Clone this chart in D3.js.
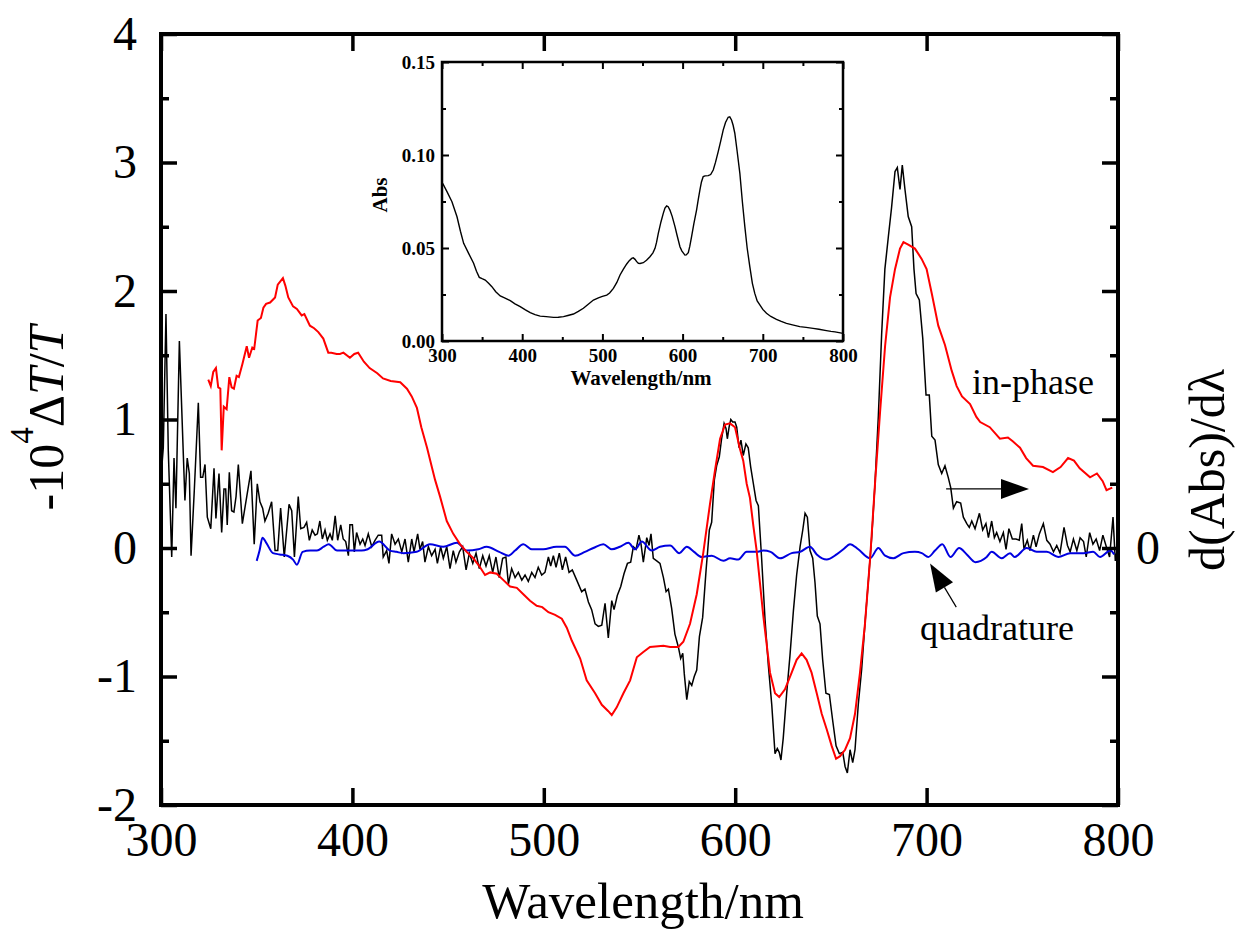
<!doctype html>
<html>
<head>
<meta charset="utf-8">
<script src="https://cdn.jsdelivr.net/npm/d3@7"></script>
<style>
  body { margin: 0; background: #fff; }
  svg text { font-family: "Liberation Serif", "DejaVu Serif", serif; }
</style>
</head>
<body>
<svg width="1245" height="938"></svg>
<script>
// derivative of absorbance, d(Abs)/dλ (black), [nm, value on left scale]
var derivAbs = [[300,0.55],[301.2,0.78],[302.6,1.82],[303.8,0.76],[305.6,-0.07],[306.8,0.70],[307.8,0.31],[309.6,1.61],[312.5,0.37],[313.7,0.70],[314.8,0.58],[315.7,-0.06],[317.4,0.45],[319.5,1.13],[320.7,0.55],[321.8,0.55],[323,0.65],[324.2,0.24],[326,0.15],[327.7,0.62],[328.7,0.23],[330.3,0.58],[331.7,0.12],[332.9,0.46],[333.8,0.46],[334.6,0.18],[335.7,0.59],[336.9,0.29],[338.1,0.28],[339.2,0.40],[340.4,0.65],[342.5,0.19],[344.8,0.40],[347,0.60],[348.7,0.03],[350.3,0.50],[351.7,0.36],[353.1,0.31],[354.3,0.21],[356,0.27],[357.8,0.36],[359.6,-0.02],[361,-0.02],[362.5,0.31],[364.4,-0.07],[366.9,0.34],[368.3,0.29],[369.7,-0.07],[371.7,0.40],[373,0.15],[374.7,0.16],[376.1,0.20],[377.5,0.06],[379,0.14],[380.5,0.10],[381.7,0.11],[383,0.21],[384.3,0.07],[385.7,0.14],[386.9,0.06],[388.3,0.11],[389.5,0.06],[391,0.25],[392.3,0.06],[393.9,0.18],[395.2,0.07],[396.5,0.05],[397.9,-0.06],[398.7,0.18],[400,0.18],[401,-0.03],[402.2,0.12],[404,0.03],[405.4,0.07],[406.6,0.02],[408.3,0.11],[410.1,0.01],[411.8,0.06],[413.5,0.10],[415.3,0.10],[416.1,-0.07],[417.9,-0.02],[419.1,-0.12],[420.5,0.11],[422.3,0.03],[424,0.07],[425.8,-0.03],[427.5,0.07],[429.2,-0.11],[431,0.07],[432.2,-0.03],[434.1,0.11],[435.3,-0.01],[436.7,0.05],[437.9,-0.11],[439.7,0.01],[441.4,-0.06],[443.2,-0.01],[444.4,-0.12],[446.1,0.01],[447.5,-0.08],[449.3,0.01],[451,-0.16],[452.7,-0.02],[454.1,-0.11],[455.9,-0.03],[457.6,0.01],[459.4,-0.17],[461.1,-0.04],[462.9,-0.12],[464.6,-0.04],[466.3,-0.16],[468.1,-0.06],[469.8,-0.14],[471.5,-0.06],[473.3,-0.19],[475,-0.07],[476.7,-0.23],[478.5,-0.08],[480.2,-0.07],[481.5,-0.28],[483.2,-0.16],[485,-0.23],[486.7,-0.19],[488.5,-0.25],[490.2,-0.21],[491.9,-0.26],[493.7,-0.19],[495.4,-0.23],[497.1,-0.15],[498.9,-0.21],[500.6,-0.19],[502.4,-0.07],[503.6,-0.14],[505,-0.06],[506.4,-0.15],[508.1,-0.04],[509.7,-0.17],[511.4,-0.07],[513.2,-0.19],[514.9,-0.17],[517.2,-0.25],[519.8,-0.34],[521.5,-0.32],[523.3,-0.42],[525,-0.48],[526.8,-0.59],[528.5,-0.61],[530.3,-0.60],[532,-0.43],[533.7,-0.70],[535.5,-0.41],[536.7,-0.48],[538.4,-0.37],[540.2,-0.30],[541.9,-0.20],[543.7,-0.12],[545.4,-0.11],[546.8,0.01],[548.2,-0.01],[549.7,0.10],[550.8,0.03],[552,-0.11],[553.8,0.08],[555,0.02],[556,0.11],[557.2,-0.08],[559,-0.10],[560.7,-0.12],[562.5,-0.23],[563.9,-0.34],[565.1,-0.32],[566.8,-0.47],[568.5,-0.67],[570.3,-0.77],[571.5,-0.86],[572.6,-0.82],[573.4,-0.98],[574.7,-1.18],[576,-1.04],[577.3,-1.07],[578.6,-1.00],[579.9,-0.95],[581.3,-0.69],[583,-0.54],[584.8,-0.17],[586.5,0.14],[587.7,0.20],[589.1,0.53],[590.3,0.64],[591.7,0.71],[592.9,0.85],[594.2,0.97],[595.2,0.93],[595.9,0.85],[596.8,0.94],[597.7,1.00],[598.7,0.98],[599.9,0.98],[600.8,0.94],[602,0.78],[603,0.84],[604.2,0.72],[605.6,0.81],[606.8,0.78],[608.1,0.63],[609.5,0.50],[610.9,0.37],[612.1,0.33],[613.8,-0.08],[615.6,-0.56],[617.3,-0.91],[619.1,-1.22],[620.8,-1.60],[622,-1.56],[623,-1.59],[623.9,-1.65],[625.1,-1.48],[626.9,-1.13],[628.6,-0.84],[630.4,-0.49],[632.1,-0.21],[633.9,0.01],[635.3,0.14],[636.5,0.27],[637.7,0.24],[639.1,-0.02],[640.5,-0.08],[641.7,-0.27],[642.9,-0.53],[644.3,-0.59],[645.7,-0.87],[647.4,-1.13],[649.2,-1.14],[651,-1.35],[652.7,-1.54],[654.4,-1.60],[656.2,-1.59],[657.4,-1.70],[658.6,-1.75],[660,-1.57],[661.4,-1.67],[662.6,-1.57],[664.3,-1.22],[666.1,-0.94],[667.8,-0.59],[669.5,-0.27],[671.3,0.08],[673,0.49],[674.8,1.03],[676.5,1.66],[678.2,2.17],[680,2.42],[681.7,2.65],[683.5,2.93],[684.7,2.96],[686.1,2.79],[687.3,2.98],[688.7,2.79],[690.4,2.58],[692.2,2.50],[693.4,2.17],[694.5,1.98],[696.2,1.93],[698,1.63],[699.7,1.19],[701.4,1.19],[702.7,0.87],[704.4,0.84],[706.1,0.65],[707.9,0.58],[709.6,0.64],[711.3,0.55],[712.6,0.47],[714,0.31],[715.7,0.36],[717.8,0.35],[719.2,0.24],[721,0.19],[722.3,0.16],[723.6,0.21],[725.3,0.15],[727.6,0.27],[729.3,0.14],[731,0.19],[732.3,0.08],[734,0.21],[735.4,0.08],[736.6,0.12],[738.3,0.05],[740.1,0.12],[741.5,-0.01],[743,0.15],[744.8,0.07],[746.7,0.07],[748.4,0.06],[749.7,0.19],[750.9,-0.01],[752.6,0.06],[754,-0.02],[755.8,0.10],[757.2,0.01],[758.9,0.11],[761,0.19],[762.8,0.06],[764.5,0.03],[766.3,-0.03],[768,0.02],[769.7,-0.04],[771.8,0.16],[773.6,0.02],[775,-0.03],[776.7,0.07],[778.5,-0.02],[780.2,0.08],[782,0.05],[783.4,-0.07],[785.2,0.12],[786.9,0.03],[788.6,0.07],[790.4,-0.02],[792.1,0.10],[793.9,0.01],[795.6,-0.07],[797.4,0.24],[798.6,-0.10],[800,0.02]];

// in-phase signal (red)
var inPhase = [[324.7,1.31],[326,1.26],[327.3,1.37],[328.7,1.40],[329.9,1.25],[331,1.24],[331.7,0.76],[332.8,1.10],[334.3,1.08],[335.7,1.33],[336.9,1.25],[338.1,1.24],[339.5,1.34],[340.7,1.33],[342.5,1.43],[344.8,1.57],[346,1.48],[347.7,1.56],[348.7,1.55],[350.5,1.77],[352.2,1.79],[353.5,1.87],[354.9,1.90],[357,1.91],[359.6,1.95],[361,2.05],[363.7,2.10],[365,2.04],[366.5,1.95],[369,1.88],[371,1.86],[373.5,1.81],[374.9,1.82],[377.8,1.73],[380,1.71],[382.2,1.68],[384.8,1.63],[387.4,1.52],[389,1.52],[391.8,1.51],[393.5,1.51],[395.3,1.52],[398.7,1.48],[401,1.51],[403,1.52],[406,1.45],[409,1.40],[413,1.36],[416,1.32],[420,1.30],[425,1.29],[428.5,1.24],[431,1.18],[433.7,1.09],[436,0.94],[439,0.78],[441.5,0.63],[443.2,0.53],[445.8,0.40],[449.3,0.21],[452.7,0.11],[456.2,0.03],[459.7,-0.03],[463.2,-0.08],[466.7,-0.15],[469.3,-0.21],[472,-0.19],[475.4,-0.20],[478.9,-0.25],[482.4,-0.30],[485.9,-0.31],[489.3,-0.36],[492.8,-0.41],[496.3,-0.45],[499.2,-0.46],[502.4,-0.50],[505.9,-0.52],[509.4,-0.55],[512,-0.62],[514.6,-0.72],[519,-0.86],[522.4,-1.03],[526.8,-1.13],[530.3,-1.22],[533.7,-1.27],[535.5,-1.30],[538.1,-1.24],[541.6,-1.13],[545.1,-1.03],[548.6,-0.85],[552,-0.81],[555.5,-0.77],[562.5,-0.76],[566,-0.77],[570.3,-0.77],[572.9,-0.73],[576.4,-0.59],[579.9,-0.36],[583.3,-0.04],[586.8,0.34],[589.4,0.60],[592.1,0.85],[594.7,0.96],[597.3,0.97],[599.9,0.94],[602.5,0.77],[604.2,0.68],[606,0.50],[607.7,0.39],[609.5,0.17],[611.2,-0.02],[614.7,-0.53],[618.2,-0.97],[620.8,-1.13],[623,-1.16],[626,-1.10],[629.5,-0.97],[632.1,-0.87],[634.7,-0.82],[637.3,-0.87],[639.9,-0.97],[642.6,-1.13],[645.2,-1.29],[647.8,-1.41],[650.4,-1.54],[652.7,-1.64],[654.8,-1.62],[657.4,-1.57],[660,-1.48],[662.6,-1.29],[665.2,-0.97],[667.8,-0.59],[670.5,-0.08],[673,0.49],[675.7,1.06],[678.3,1.57],[680.9,1.95],[683.5,2.17],[686.1,2.33],[687.9,2.38],[690.4,2.36],[693.9,2.33],[697.4,2.25],[700,2.17],[702.7,1.98],[706.1,1.73],[709.6,1.58],[713.1,1.38],[715.7,1.26],[718.5,1.18],[722.7,1.12],[726,1.02],[728,0.98],[733,0.94],[738.3,0.85],[742.5,0.86],[745,0.83],[748.8,0.78],[752,0.70],[755.6,0.64],[760.8,0.63],[766,0.59],[770,0.63],[773.9,0.70],[777,0.68],[780,0.62],[785.4,0.55],[789,0.58],[792,0.52],[794,0.45],[797,0.47]];

// quadrature signal (blue)
var quadrature = [[350,-0.10],[351.5,-0.02],[353,0.08],[355,0.04],[358.5,-0.04],[362,-0.05],[366,-0.06],[369,-0.09],[371,-0.13],[374,-0.03],[378,-0.02],[381.5,-0.02],[385,0.01],[387.6,0.03],[392,-0.02],[398.7,-0.02],[404.8,-0.02],[408,-0.01],[414,0.05],[419.6,-0.02],[423,-0.03],[426.6,-0.04],[433.6,-0.03],[440.5,0.03],[447.5,0.01],[454.6,0.04],[459.7,-0.02],[465.8,-0.01],[470.1,0.01],[476.7,-0.03],[481.5,-0.06],[485,-0.02],[489.3,0.03],[493.7,-0.01],[499.7,-0.01],[506.6,0.01],[511,0.01],[516.3,-0.06],[521.5,-0.03],[525.9,0.00],[531.1,0.03],[535.5,-0.01],[539.8,0.01],[544.2,0.04],[547.7,-0.01],[551.2,0.05],[556.4,-0.02],[560.7,0.01],[566,0.02],[570.8,-0.04],[574.7,0.01],[578.5,-0.03],[582.5,-0.07],[587.7,-0.06],[593.8,-0.10],[597.3,-0.08],[601.6,-0.09],[606,-0.03],[611.2,-0.03],[614.7,-0.02],[618.5,-0.03],[623.4,-0.08],[629.5,-0.04],[633.9,-0.03],[639.1,0.01],[642.6,-0.05],[647.8,-0.09],[653,-0.05],[656.5,-0.01],[660,0.03],[664.3,-0.01],[670.5,-0.08],[674.8,0.00],[678.3,-0.06],[682.6,-0.08],[687.9,-0.04],[693.9,-0.03],[697.5,-0.04],[700.9,-0.07],[704.4,-0.02],[708.2,0.03],[712.5,-0.07],[717,0.00],[721,-0.05],[725.5,-0.11],[731.4,-0.07],[734,-0.03],[739.2,-0.08],[743.6,-0.04],[746,-0.07],[752.3,0.00],[757.5,-0.03],[762.8,-0.03],[768.8,-0.07],[775,-0.04],[782,-0.04],[787,-0.03],[790.6,-0.07],[796,-0.02],[798,-0.05]];

// inset absorption spectrum
var absSpectrum = [[300,0.0850],[301.2,0.0844],[306.2,0.0803],[312.4,0.0749],[318.7,0.0668],[323,0.0590],[327,0.0525],[333.2,0.0471],[339.4,0.0418],[343,0.0375],[346.5,0.0342],[350,0.0335],[353.9,0.0328],[358.1,0.0310],[362.2,0.0292],[367,0.0265],[372.6,0.0242],[378,0.0232],[385.1,0.0217],[391,0.0200],[397.5,0.0185],[404,0.0167],[410,0.0152],[416,0.0142],[422.4,0.0134],[430,0.0131],[439,0.0127],[445,0.0128],[451.5,0.0131],[457,0.0137],[463.9,0.0145],[470,0.0159],[476.3,0.0176],[482,0.0196],[488.8,0.0220],[495,0.0232],[500,0.0240],[505.4,0.0247],[509,0.0258],[513.7,0.0283],[518,0.0315],[522,0.0355],[526,0.0385],[530.3,0.0414],[533.5,0.0432],[536.5,0.0444],[538.5,0.0447],[540.7,0.0439],[542.5,0.0428],[544.8,0.0418],[547,0.0417],[551,0.0421],[555,0.0434],[559.3,0.0453],[563,0.0474],[565.6,0.0498],[567.5,0.0530],[569.7,0.0579],[573,0.0640],[575.9,0.0686],[578,0.0715],[580.1,0.0726],[582,0.0722],[584.2,0.0704],[587,0.0670],[590.5,0.0615],[593,0.0570],[596.7,0.0507],[599,0.0485],[602.9,0.0462],[604.5,0.0463],[607.1,0.0475],[609,0.0510],[611.2,0.0561],[614,0.0630],[617.4,0.0704],[619.5,0.0760],[621.6,0.0812],[623.5,0.0855],[625.7,0.0884],[628,0.0888],[632,0.0889],[635,0.0895],[638.2,0.0919],[641,0.0960],[644.4,0.1018],[647.5,0.1075],[650.6,0.1134],[653.5,0.1175],[656.8,0.1203],[658.8,0.1205],[661,0.1188],[663,0.1160],[665.1,0.1117],[668,0.1020],[671.4,0.0901],[674.5,0.0750],[677.6,0.0615],[680.5,0.0500],[683.8,0.0400],[687,0.0310],[690,0.0256],[693,0.0215],[696.3,0.0194],[700,0.0170],[704.6,0.0149],[710,0.0132],[717,0.0116],[723,0.0105],[729.5,0.0095],[737,0.0087],[746.1,0.0077],[754,0.0073],[762.7,0.0068],[770,0.0063],[779.3,0.0056],[785,0.0052],[790,0.0049],[800,0.0041]];

var xTicks = [300, 400, 500, 600, 700, 800];
var yTicks = [-2, -1, 0, 1, 2, 3, 4];
var yMinor = [-1.5, -0.5, 0.5, 1.5, 2.5, 3.5];
var insetXTicks = [300, 400, 500, 600, 700, 800];
var insetXMinor = [350, 450, 550, 650, 750];
var insetYTicks = [0, 0.05, 0.10, 0.15];
var insetYMinor = [0.025, 0.075, 0.125];

var serif = "'Liberation Serif', 'DejaVu Serif', serif";
var svg = d3.select("svg");

var x = d3.scaleLinear().domain([300, 800]).range([161, 1118]);
var y = d3.scaleLinear().domain([-2, 4]).range([805, 34]);

svg.append("defs").append("clipPath").attr("id", "plotclip")
  .append("rect").attr("x", 161).attr("y", 34).attr("width", 957).attr("height", 771);

var line = d3.line().x(d => x(d[0])).y(d => y(d[1]));

var curves = svg.append("g").attr("clip-path", "url(#plotclip)");
curves.append("path").datum(derivAbs).attr("d", line)
  .attr("fill", "none").attr("stroke", "#000").attr("stroke-width", 1.5);
curves.append("path").datum(quadrature).attr("d", line.curve(d3.curveMonotoneX))
  .attr("fill", "none").attr("stroke", "#0000e0").attr("stroke-width", 2);
curves.append("path").datum(inPhase).attr("d", line.curve(d3.curveLinear))
  .attr("fill", "none").attr("stroke", "#ff0000").attr("stroke-width", 2);

// axes: inward ticks on all four sides
function styleAxis(g, fs) {
  g.attr("font-family", serif);
  g.select(".domain").remove();
  g.selectAll(".tick line").attr("stroke", "#000").attr("stroke-width", 3.5);
  g.selectAll(".tick text").attr("fill", "#000")
    .attr("font-family", serif).style("font-family", serif).style("font-size", fs + "px");
}

svg.append("g").attr("transform", "translate(0,805)")
  .call(d3.axisBottom(x).tickValues(xTicks).tickSize(-17).tickPadding(17).tickFormat(d3.format("d")))
  .call(g => styleAxis(g, 48));
svg.append("g").attr("transform", "translate(0,34)")
  .call(d3.axisTop(x).tickValues(xTicks).tickSize(-17).tickFormat(""))
  .call(g => styleAxis(g, 48));
svg.append("g").attr("transform", "translate(161,0)")
  .call(d3.axisLeft(y).tickValues(yTicks).tickSize(-16).tickPadding(24).tickFormat(d => String(d)))
  .call(g => styleAxis(g, 48));
svg.append("g").attr("transform", "translate(161,0)")
  .call(d3.axisLeft(y).tickValues(yMinor).tickSize(-8).tickFormat(""))
  .call(g => styleAxis(g, 48));
svg.append("g").attr("transform", "translate(1118,0)")
  .call(d3.axisRight(y).tickValues(yTicks).tickSize(-16).tickPadding(18)
    .tickFormat(d => d === 0 ? "0" : ""))
  .call(g => styleAxis(g, 48));
svg.append("g").attr("transform", "translate(1118,0)")
  .call(d3.axisRight(y).tickValues(yMinor).tickSize(-8).tickFormat(""))
  .call(g => styleAxis(g, 48));

svg.append("rect").attr("x", 161).attr("y", 34).attr("width", 957).attr("height", 771)
  .attr("fill", "none").attr("stroke", "#000").attr("stroke-width", 4);

// axis titles
svg.append("text").attr("x", 643).attr("y", 918).attr("text-anchor", "middle")
  .attr("font-family", serif).style("font-size", "51px").text("Wavelength/nm");

var yl = svg.append("text").attr("transform", "translate(63,418) rotate(-90)")
  .attr("text-anchor", "middle").attr("font-family", serif).style("font-size", "50px");
yl.append("tspan").text("-10");
yl.append("tspan").attr("dy", -30).style("font-size", "33px").text("4");
yl.append("tspan").attr("dy", 30).text("\u0394");
yl.append("tspan").style("font-style", "italic").text("T");
yl.append("tspan").text("/");
yl.append("tspan").style("font-style", "italic").text("T");

svg.append("text").attr("transform", "translate(1224,470) rotate(-90)")
  .attr("text-anchor", "middle").attr("font-family", serif).style("font-size", "50px")
  .text("d(Abs)/d\u03bb");

// annotations
svg.append("text").attr("x", 972).attr("y", 394).attr("font-family", serif)
  .style("font-size", "36px").text("in-phase");
svg.append("text").attr("x", 920).attr("y", 640).attr("font-family", serif)
  .style("font-size", "36px").text("quadrature");

function arrow(x1, y1, x2, y2, len, half) {
  var a = Math.atan2(y2 - y1, x2 - x1);
  var bx = x2 - len * Math.cos(a), by = y2 - len * Math.sin(a);
  svg.append("line").attr("x1", x1).attr("y1", y1).attr("x2", bx).attr("y2", by)
    .attr("stroke", "#000").attr("stroke-width", 1.2);
  var px = -Math.sin(a) * half, py = Math.cos(a) * half;
  svg.append("path")
    .attr("d", "M" + x2 + "," + y2 + "L" + (bx + px) + "," + (by + py) + "L" + (bx - px) + "," + (by - py) + "Z")
    .attr("fill", "#000");
}
arrow(x(710.2), y(0.46), x(753.5), y(0.46), 28, 10);
arrow(x(715.5), y(-0.46), x(701.8), y(-0.12), 28, 10);

// inset
var xi = d3.scaleLinear().domain([300, 800]).range([442, 843]);
var yi = d3.scaleLinear().domain([0, 0.15]).range([341, 62]);

svg.append("rect").attr("x", 442).attr("y", 62).attr("width", 401).attr("height", 279).attr("fill", "#fff");

svg.append("path").datum(absSpectrum)
  .attr("d", d3.line().x(d => xi(d[0])).y(d => yi(d[1])))
  .attr("fill", "none").attr("stroke", "#000").attr("stroke-width", 1.4);

function styleInset(g) {
  g.attr("font-family", serif);
  g.select(".domain").remove();
  g.selectAll(".tick line").attr("stroke", "#000").attr("stroke-width", 2);
  g.selectAll(".tick text").attr("fill", "#000").attr("font-family", serif)
    .style("font-family", serif).style("font-size", "19px").style("font-weight", "bold");
}
svg.append("g").attr("transform", "translate(0,341)")
  .call(d3.axisBottom(xi).tickValues(insetXTicks).tickSize(-7).tickPadding(8).tickFormat(d3.format("d")))
  .call(styleInset);
svg.append("g").attr("transform", "translate(0,341)")
  .call(d3.axisBottom(xi).tickValues(insetXMinor).tickSize(-4).tickFormat("")).call(styleInset);
svg.append("g").attr("transform", "translate(0,62)")
  .call(d3.axisTop(xi).tickValues(insetXTicks).tickSize(-7).tickFormat("")).call(styleInset);
svg.append("g").attr("transform", "translate(0,62)")
  .call(d3.axisTop(xi).tickValues(insetXMinor).tickSize(-4).tickFormat("")).call(styleInset);
svg.append("g").attr("transform", "translate(442,0)")
  .call(d3.axisLeft(yi).tickValues(insetYTicks).tickSize(-7).tickPadding(7).tickFormat(d3.format(".2f")))
  .call(styleInset);
svg.append("g").attr("transform", "translate(442,0)")
  .call(d3.axisLeft(yi).tickValues(insetYMinor).tickSize(-4).tickFormat("")).call(styleInset);
svg.append("g").attr("transform", "translate(843,0)")
  .call(d3.axisRight(yi).tickValues(insetYTicks).tickSize(-7).tickFormat("")).call(styleInset);
svg.append("g").attr("transform", "translate(843,0)")
  .call(d3.axisRight(yi).tickValues(insetYMinor).tickSize(-4).tickFormat("")).call(styleInset);

svg.append("rect").attr("x", 442).attr("y", 62).attr("width", 401).attr("height", 279)
  .attr("fill", "none").attr("stroke", "#000").attr("stroke-width", 2.5);

svg.append("text").attr("x", 641).attr("y", 385).attr("text-anchor", "middle").attr("font-family", serif)
  .style("font-size", "21px").style("font-weight", "bold").text("Wavelength/nm");
svg.append("text").attr("transform", "translate(387,195) rotate(-90)").attr("text-anchor", "middle")
  .attr("font-family", serif).style("font-size", "21px").style("font-weight", "bold").text("Abs");
</script>
</body>
</html>
